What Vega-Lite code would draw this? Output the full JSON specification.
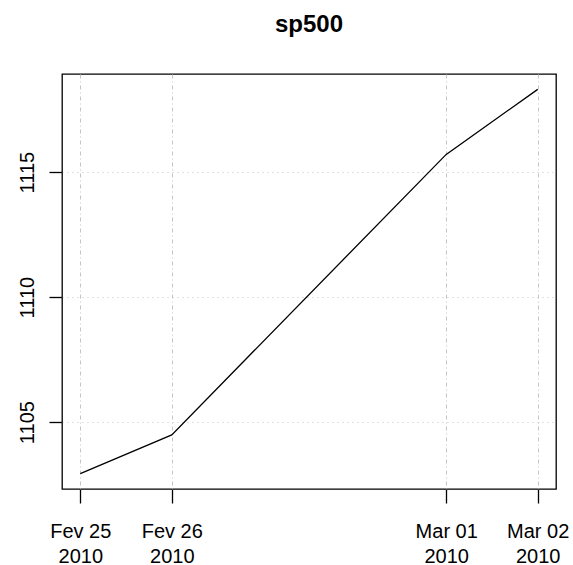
{
  "$schema": "https://vega.github.io/schema/vega-lite/v6.json",
  "width": 494,
  "height": 415,
  "autosize": {"type": "none"},
  "padding": {"left": 62, "top": 74, "right": 17, "bottom": 76},
  "background": "white",
  "title": {
    "text": "sp500",
    "font": "Liberation Sans",
    "fontSize": 24,
    "fontWeight": "bold",
    "color": "black",
    "anchor": "middle",
    "baseline": "alphabetic",
    "offset": 18
  },
  "config": {
    "view": {"stroke": "black", "strokeWidth": 1.3},
    "axis": {
      "labelFont": "Liberation Sans",
      "labelFontSize": 20,
      "labelColor": "black",
      "tickColor": "black",
      "tickWidth": 1.3,
      "domain": false,
      "title": null,
      "gridColor": "#c4c4c4",
      "gridWidth": 1
    }
  },
  "data": {
    "values": [
      {"date": "2010-02-25", "close": 1102.94},
      {"date": "2010-02-26", "close": 1104.49},
      {"date": "2010-03-01", "close": 1115.71},
      {"date": "2010-03-02", "close": 1118.31}
    ]
  },
  "mark": {"type": "line", "color": "black", "strokeWidth": 1.3},
  "encoding": {
    "x": {
      "field": "date",
      "type": "temporal",
      "scale": {
        "type": "utc",
        "domain": [
          {"year": 2010, "month": 2, "date": 24, "hours": 19, "minutes": 12, "utc": true},
          {"year": 2010, "month": 3, "date": 2, "hours": 4, "minutes": 48, "utc": true}
        ]
      },
      "axis": {
        "values": [
          {"year": 2010, "month": 2, "date": 25, "utc": true},
          {"year": 2010, "month": 2, "date": 26, "utc": true},
          {"year": 2010, "month": 3, "date": 1, "utc": true},
          {"year": 2010, "month": 3, "date": 2, "utc": true}
        ],
        "labelExpr": "[(utcmonth(datum.value) == 1 ? 'Fev' : 'Mar') + ' ' + utcFormat(datum.value, '%d'), utcFormat(datum.value, '%Y')]",
        "labelLineHeight": 25,
        "tickSize": 14,
        "labelPadding": 18,
        "labelFlush": false,
        "labelOverlap": false,
        "grid": true,
        "gridDash": [4, 3, 1, 3]
      }
    },
    "y": {
      "field": "close",
      "type": "quantitative",
      "scale": {"domain": [1102.325, 1118.925], "nice": false, "zero": false},
      "axis": {
        "values": [1105, 1110, 1115],
        "format": "d",
        "tickSize": 13,
        "labelAngle": -90,
        "labelAlign": "center",
        "labelBaseline": "alphabetic",
        "labelPadding": 16,
        "grid": true,
        "gridDash": [1, 4]
      }
    }
  }
}
